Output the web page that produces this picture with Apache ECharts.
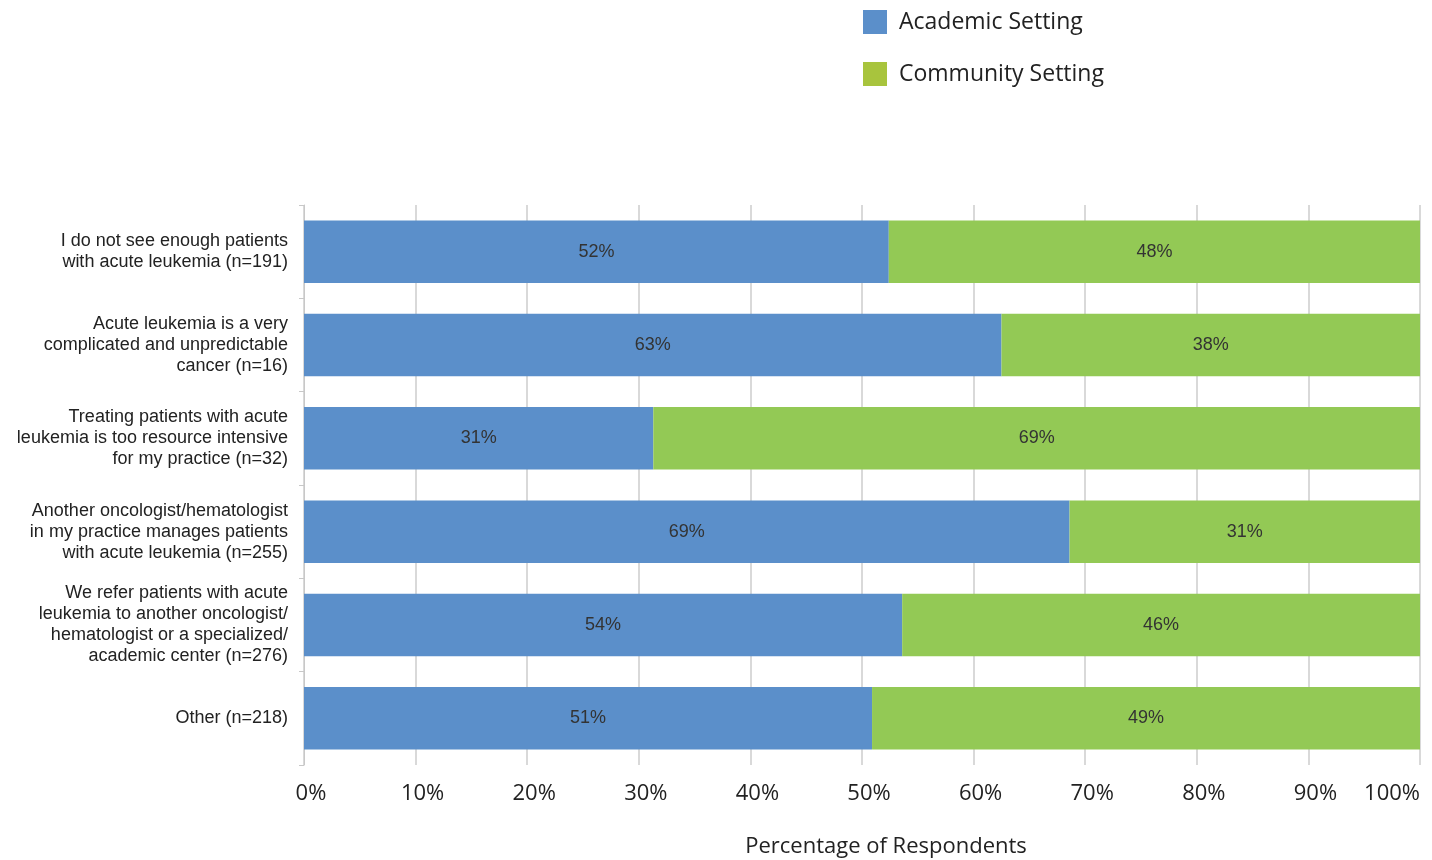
<!DOCTYPE html>
<html><head><meta charset="utf-8">
<script src="https://cdn.jsdelivr.net/npm/echarts@6/dist/echarts.min.js"></script>
<style>html,body{margin:0;padding:0;background:#fff}#c{width:1432px;height:860px}</style>
</head><body><div id="c"></div>
<script>
const categories = [
  "I do not see enough patients\nwith acute leukemia (n=191)",
  "Acute leukemia is a very\ncomplicated and unpredictable\ncancer (n=16)",
  "Treating patients with acute\nleukemia is too resource intensive\nfor my practice (n=32)",
  "Another oncologist/hematologist\nin my practice manages patients\nwith acute leukemia (n=255)",
  "We refer patients with acute\nleukemia to another oncologist/\nhematologist or a specialized/\nacademic center (n=276)",
  "Other (n=218)"
];
const academic = [52.4, 62.5, 31.3, 68.6, 53.6, 50.9];
const community = [47.6, 37.5, 68.7, 31.4, 46.4, 49.1];
const academicLabels = ["52%", "63%", "31%", "69%", "54%", "51%"];
const communityLabels = ["48%", "38%", "69%", "31%", "46%", "49%"];
const seriesNames = ["Academic Setting", "Community Setting"];

const chart = echarts.init(document.getElementById('c'));
const labelStyle = { show: true, position: 'inside', color: '#333', fontSize: 18, fontFamily: 'Liberation Sans, Arial, sans-serif' };
chart.setOption({
  animation: false,
  legend: {
    orient: 'vertical', left: 863, top: 10, padding: 0, itemWidth: 24, itemHeight: 24, itemGap: 28, icon: 'rect',
    textStyle: { fontSize: 23, color: '#222', fontFamily: 'Open Sans, sans-serif', padding: [0, 0, 0, 7] },
    data: [
      { name: seriesNames[0], itemStyle: { color: '#5b8fca' } },
      { name: seriesNames[1], itemStyle: { color: '#a8c43d' } }
    ]
  },
  grid: { left: 304, right: 12, top: 205, bottom: 95, containLabel: false, outerBoundsMode: 'none' },
  xAxis: {
    type: 'value', min: 0, max: 100, interval: 10,
    name: 'Percentage of Respondents', nameLocation: 'middle', nameGap: 71,
    nameTextStyle: { fontSize: 22, color: '#222', fontFamily: 'Open Sans, sans-serif', padding: [0, 0, 0, 48] },
    axisLine: { show: false },
    axisTick: { show: false },
    splitLine: { show: true, lineStyle: { color: '#d9d9d9', width: 2 } },
    axisLabel: { formatter: '{value}%', fontSize: 22, color: '#222', margin: 18, padding: [0, 0, 0, 14],
      alignMaxLabel: 'right', fontFamily: 'Open Sans, sans-serif' }
  },
  yAxis: {
    type: 'category', inverse: true, data: categories,
    axisLine: { show: true, lineStyle: { color: '#c8c8c8', width: 1 } },
    axisTick: { show: true, length: 5, lineStyle: { color: '#c8c8c8' } },
    axisLabel: { fontSize: 18, color: '#222', lineHeight: 21, margin: 16, align: 'right', fontFamily: 'Liberation Sans, Arial, sans-serif' }
  },
  series: [
    { name: seriesNames[0], type: 'bar', stack: 'a', data: academic, barCategoryGap: '33%',
      itemStyle: { color: '#5b8fca' },
      label: Object.assign({}, labelStyle, { formatter: p => academicLabels[p.dataIndex] }) },
    { name: seriesNames[1], type: 'bar', stack: 'a', data: community, barCategoryGap: '33%',
      itemStyle: { color: '#93c955' },
      label: Object.assign({}, labelStyle, { formatter: p => communityLabels[p.dataIndex] }) }
  ]
});
</script></body></html>
